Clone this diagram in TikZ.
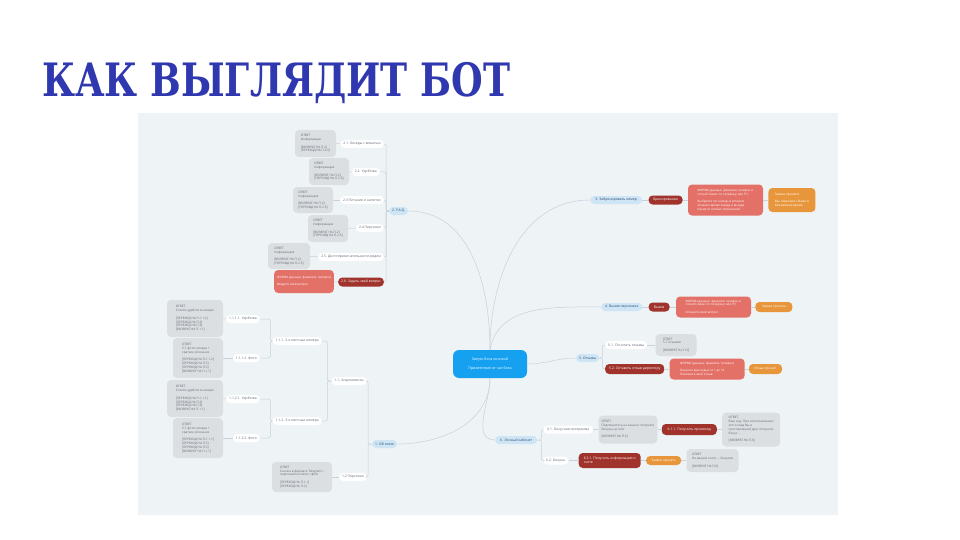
\documentclass[tikz,border=0pt]{standalone}
\usepackage{fontspec}
\usepackage{graphicx}
\setmainfont{Open Sans}
\newfontfamily\titlefont{DejaVu Serif}
\usetikzlibrary{positioning}

\definecolor{panel}{RGB}{238,243,246}
\definecolor{titleblue}{RGB}{48,56,176}
\definecolor{hubblue}{RGB}{22,160,240}
\definecolor{branchblue}{RGB}{205,229,244}
\definecolor{branchtext}{RGB}{40,70,110}
\definecolor{labeltext}{RGB}{95,105,115}
\definecolor{answergray}{RGB}{220,223,226}
\definecolor{darkred}{RGB}{160,52,45}
\definecolor{salmon}{RGB}{228,113,104}
\definecolor{orangebox}{RGB}{232,150,60}
\definecolor{linkgray}{RGB}{200,210,218}

\newcommand{\jump}[1]{{[}#1{]}}

\begin{document}
\begin{tikzpicture}[x=1pt, y=1pt,
    every node/.style={font=\fontsize{3.4}{4}\selectfont, inner sep=0pt},
    hub/.style={fill=hubblue, text=white, rounded corners=6pt, align=center,
      minimum width=74, minimum height=28, font=\fontsize{3.6}{4.3}\selectfont},
    branch/.style={fill=branchblue, text=branchtext, rounded corners=4pt,
      inner xsep=3pt, minimum height=8},
    tag/.style={fill=white, text=labeltext, rounded corners=4pt,
      inner xsep=3pt, minimum height=8},
    answer/.style={fill=answergray, text=labeltext, rounded corners=4pt,
      align=left, inner sep=3pt, font=\fontsize{3.1}{3.8}\selectfont},
    dark/.style={fill=darkred, text=white, rounded corners=4pt, align=left,
      inner xsep=3pt, minimum height=9},
    form/.style={fill=salmon, text=white, rounded corners=4pt, align=left,
      inner sep=3pt, font=\fontsize{3}{3.7}\selectfont},
    done/.style={fill=orangebox, text=white, rounded corners=4pt, align=left,
      inner sep=3pt, font=\fontsize{3.1}{3.8}\selectfont},
    link/.style={draw=linkgray, line width=0.5pt},
    tree/.style={link, rounded corners=2pt}]

  % page and panel
  \fill[white] (0,0) rectangle (960,-540);
  \useasboundingbox (0,0) rectangle (960,-540);
  \fill[panel] (138,-113) rectangle (838,-515);

  % title
  \node[anchor=base west, text=titleblue,
    font=\titlefont\bfseries\fontsize{46}{46}\selectfont] (title) at (42,-97)
    {\scalebox{0.79}[1]{КАК ВЫГЛЯДИТ БОТ}};

  % centre
  \node[hub] (hub) at (490,-364) {Запуск бота кнопкой\\[5pt]Приветствие от чат-бота};

  % branches
  \node[branch, anchor=west] (b2) at (389,-211) {2. F.A.Q.};
  \node[branch, anchor=west] (b1) at (372,-444) {1. Об отеле};
  \node[branch, anchor=west, minimum width=52] (b3) at (590,-200) {3. Забронировать номер};
  \node[branch, anchor=west, minimum width=41] (b4) at (601,-307) {4. Вызов персонала};
  \node[branch, anchor=west, minimum width=22] (b5) at (576,-358) {5. Отзывы};
  \node[branch, anchor=west, minimum width=42] (b6) at (495,-440) {6. Личный кабинет};

  \draw[link] (hub.north) to[out=90,in=0] (b2.east);
  \draw[link] (hub.north) to[out=90,in=180] (b3.west);
  \draw[link] (hub.north) to[out=80,in=180] (b4.west);
  \draw[link] (hub.east) to[out=0,in=180] (b5.west);
  \draw[link] (hub.south) to[out=-90,in=0] (b1.east);
  \draw[link] (hub.south) to[out=-90,in=180] (b6.west);

  % 2. F.A.Q.
  \node[tag, anchor=east] (c21) at (384,-144) {2.1. Беседы с вожатым};
  \node[tag, anchor=east] (c22) at (380,-172) {2.2. Удобства};
  \node[tag, anchor=east] (c23) at (384,-200) {2.3 Питание и напитки};
  \node[tag, anchor=east] (c24) at (384,-228) {2.4 Персонал};
  \node[tag, anchor=east] (c25) at (384,-257) {2.5. Достопримечательности рядом};
  \node[dark, anchor=east] (c26) at (384,-282) {2.6. Задать свой вопрос};
  \node[answer, minimum width=41, minimum height=27] (g21) at (315.5,-143.5)
    {ОТВЕТ\\Информация\\[3.8pt]\jump{ВОЗВРАТ НА П.2}\\\jump{ПЕРЕХОД НА П.2.6}};
  \node[answer, minimum width=40, minimum height=27] (g22) at (329,-171.5)
    {ОТВЕТ\\Информация\\[3.8pt]\jump{ВОЗВРАТ НА П.2}\\\jump{ПЕРЕХОД НА П.2.6}};
  \node[answer, minimum width=40, minimum height=26] (g23) at (313,-200)
    {ОТВЕТ\\Информация\\[3.8pt]\jump{ВОЗВРАТ НА П.2}\\\jump{ПЕРЕХОД НА П.2.6}};
  \node[answer, minimum width=40, minimum height=27] (g24) at (328,-228.5)
    {ОТВЕТ\\Информация\\[3.8pt]\jump{ВОЗВРАТ НА П.2}\\\jump{ПЕРЕХОД НА П.2.6}};
  \node[answer, minimum width=42, minimum height=26] (g25) at (289,-256)
    {ОТВЕТ\\Информация\\[3.8pt]\jump{ВОЗВРАТ НА П.2}\\\jump{ПЕРЕХОД НА П.2.6}};
  \node[form, minimum width=54, minimum height=23] (r26) at (304,-281.5)
    {ФОРМА (данные: фамилия, телефон)\\[3.7pt]Введите свой вопрос};
  \foreach \c in {c21,c22,c23,c24,c25,c26}
    \draw[tree] (b2.west) -- ++(-3,0) |- (\c.east);
  \foreach \c/\g in {c21/g21,c22/g22,c23/g23,c24/g24,c25/g25,c26/r26}
    \draw[link] (\c) -- (\g);

  % 1. Об отеле
  \node[tag, anchor=east] (c11) at (367,-381) {1.1. Апартаменты};
  \node[tag, anchor=east] (c12) at (367,-477) {1.2 Персонал};
  \node[answer, minimum width=60, minimum height=30] (g12) at (302,-477)
    {ОТВЕТ\\Ссылка в формате Telegram с\\персоналом отеля с фото\\[3.8pt]\jump{ПЕРЕХОД НА П.1.1}\\\jump{ПЕРЕХОД НА П.2}};
  \node[tag, anchor=east] (c111) at (322,-341) {1.1.1. 2-х местные номера};
  \node[tag, anchor=east] (c112) at (322,-421) {1.1.2. 3-х местные номера};
  \node[tag, anchor=east] (c1111) at (260,-319) {1.1.1.1. Удобства};
  \node[tag, anchor=east] (c1112) at (260,-358) {1.1.1.2. Фото};
  \node[tag, anchor=east] (c1121) at (260,-399) {1.1.2.1. Удобства};
  \node[tag, anchor=east] (c1122) at (260,-438) {1.1.2.2. Фото};
  \node[answer, minimum width=56, minimum height=37] (gA) at (195,-318.5)
    {ОТВЕТ\\Список удобств в номере\\[3.8pt]\jump{ПЕРЕХОД НА П.1.1.2}\\\jump{ПЕРЕХОД НА П.2}\\\jump{ПЕРЕХОД НА П.3}\\\jump{ВОЗВРАТ НА П.1.1}};
  \node[answer, minimum width=50, minimum height=40] (gB) at (198,-358)
    {ОТВЕТ\\5-7 фото номера +\\краткое описание\\[3.8pt]\jump{ПЕРЕХОД НА П.1.1.2}\\\jump{ПЕРЕХОД НА П.2}\\\jump{ПЕРЕХОД НА П.3}\\\jump{ВОЗВРАТ НА П.1.1}};
  \node[answer, minimum width=56, minimum height=37] (gC) at (195,-398.5)
    {ОТВЕТ\\Список удобств в номере\\[3.8pt]\jump{ПЕРЕХОД НА П.1.1.1}\\\jump{ПЕРЕХОД НА П.2}\\\jump{ПЕРЕХОД НА П.3}\\\jump{ВОЗВРАТ НА П.1.1}};
  \node[answer, minimum width=50, minimum height=40] (gD) at (198,-438)
    {ОТВЕТ\\5-7 фото номера +\\краткое описание\\[3.8pt]\jump{ПЕРЕХОД НА П.1.1.1}\\\jump{ПЕРЕХОД НА П.2}\\\jump{ПЕРЕХОД НА П.3}\\\jump{ВОЗВРАТ НА П.1.1}};
  \foreach \c in {c11,c12}
    \draw[tree] (b1.west) -- ++(-4,0) |- (\c.east);
  \foreach \c in {c111,c112}
    \draw[tree] (c11.west) -- ++(-4,0) |- (\c.east);
  \foreach \c in {c1111,c1112}
    \draw[tree] (c111.west) -- ++(-2,0) |- (\c.east);
  \foreach \c in {c1121,c1122}
    \draw[tree] (c112.west) -- ++(-2,0) |- (\c.east);
  \foreach \c/\g in {c12/g12,c1111/gA,c1112/gB,c1121/gC,c1122/gD}
    \draw[link] (\c) -- (\g);

  % 3. Забронировать номер
  \node[dark, right=6pt of b3, minimum width=34] (d3) {Бронирование};
  \node[form, right=5pt of d3, minimum width=75, minimum height=31] (r3)
    {ФОРМА (данные: фамилия, телефон и\\способ связи: по телефону или ТГ)\\[3.7pt]Выберите тот номер, в котором\\Укажите время заезда и выезда\\Какие-то особые пожелания?};
  \node[done, right=5pt of r3, minimum width=47, minimum height=24] (o3)
    {Заявка принята!\\[3.8pt]Мы свяжемся с Вами в\\ближайшее время};
  \draw[link] (b3) -- (d3) -- (r3) -- (o3);

  % 4. Вызов персонала
  \node[dark, right=6pt of b4, minimum width=21] (d4) {Вызов};
  \node[form, right=6pt of d4, minimum width=75, minimum height=21] (r4)
    {ФОРМА (данные: фамилия, телефон и\\способ связи: по телефону или ТГ)\\[3.7pt]Опишите свой вопрос};
  \node[done, right=4pt of r4, minimum width=37, minimum height=10] (o4) {Заявка принята};
  \draw[link] (b4) -- (d4) -- (r4) -- (o4);

  % 5. Отзывы
  \node[tag, anchor=west, minimum width=33] (c51) at (605,-345) {5.1. Почитать отзывы};
  \node[answer, right=8pt of c51, minimum width=41, minimum height=22] (g51)
    {ОТВЕТ\\5-7 отзывов\\[3.8pt]\jump{ВОЗВРАТ НА П.5}};
  \node[dark, anchor=west, minimum width=59, minimum height=10] (d52) at (605,-369) {5.2. Оставить отзыв директору};
  \node[form, right=5pt of d52, minimum width=75, minimum height=21] (r52)
    {ФОРМА (данные: фамилия, телефон)\\[3.7pt]Оцените ваш отдых от 1 до 10\\Напишите свой отзыв};
  \node[done, right=4pt of r52, minimum width=33, minimum height=10] (o52) {Отзыв принят!};
  \foreach \c in {c51,d52}
    \draw[tree] (b5.east) -- ++(3,0) |- (\c.west);
  \draw[link] (c51) -- (g51);
  \draw[link] (d52) -- (r52) -- (o52);

  % 6. Личный кабинет
  \node[tag, anchor=west, minimum width=50] (c61) at (543,-429.5) {6.1. Бонусная программа};
  \node[answer, right=5pt of c61, minimum width=58, minimum height=28] (g61)
    {ОТВЕТ\\Подпишитесь на канал и получите\\бонусы на счёт\\[3.8pt]\jump{ВОЗВРАТ НА П.6}};
  \node[dark, right=4pt of g61, minimum width=55, minimum height=11] (d611) {6.1.1. Получить промокод};
  \node[answer, right=5pt of d611, minimum width=58, minimum height=34] (g611)
    {ОТВЕТ\\Ваш код. При использовании\\этого кода Вы и\\пригласивший друг получите\\бонус...\\[3.8pt]\jump{ВОЗВРАТ НА П.6}};
  \node[tag, anchor=west, minimum width=22] (c62) at (543,-460.5) {6.2. Бонусы};
  \node[dark, right=10pt of c62, minimum width=62, minimum height=15] (d621)
    {6.2.1. Получить информацию о\\счете};
  \node[done, right=5pt of d621, minimum width=35, minimum height=9] (o621) {Заявка принята};
  \node[answer, right=5pt of o621, minimum width=52, minimum height=23] (g621)
    {ОТВЕТ\\На вашем счете ... бонусов\\[3.8pt]\jump{ВОЗВРАТ НА П.6}};
  \foreach \c in {c61,c62}
    \draw[tree] (b6.east) -- ++(4,0) |- (\c.west);
  \draw[link] (c61) -- (g61) -- (d611) -- (g611);
  \draw[link] (c62) -- (d621) -- (o621) -- (g621);
\end{tikzpicture}
\end{document}
